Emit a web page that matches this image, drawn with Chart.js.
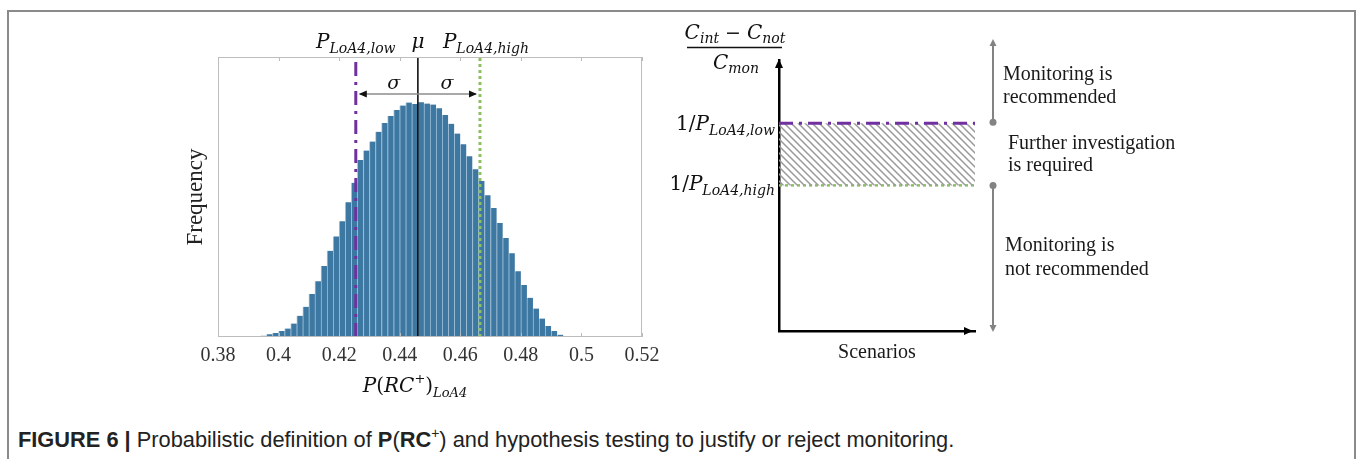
<!DOCTYPE html>
<html>
<head>
<meta charset="utf-8">
<script src="https://cdn.jsdelivr.net/npm/chart.js@4.4.0/dist/chart.umd.min.js"></script>
<style>
  html, body { margin: 0; padding: 0; background: #fff; width: 1360px; height: 459px; overflow: hidden; }
  #frame { position: absolute; left: 7px; top: 10px; width: 1349px; height: 470px; border: 2px solid #8a8a8a; box-sizing: border-box; }
  #histCanvas { position: absolute; left: 0; top: 0; }
  #diagCanvas { position: absolute; left: 640px; top: 0; }
  #caption { position: absolute; left: 18px; top: 426px; font-family: "Liberation Sans", Arial, sans-serif; font-size: 21.8px; color: #222; white-space: nowrap; }
  #caption sup { font-size: 14px; position: relative; top: -1px; }
</style>
</head>
<body>
<div id="frame"></div>
<canvas id="histCanvas" width="680" height="410"></canvas>
<canvas id="diagCanvas" width="720" height="410"></canvas>
<div id="caption"><b>FIGURE 6 |</b> Probabilistic definition of <b>P</b>(<b>RC</b><sup>+</sup>) and hypothesis testing to justify or reject monitoring.</div>

<script>
// Histogram of P(RC+)_LoA4 (bin centres; frequency in arbitrary units)
const binCenters = [
    0.391, 0.393, 0.395, 0.397, 0.399, 0.401, 0.403, 0.405, 0.407, 0.409,
    0.411, 0.413, 0.415, 0.417, 0.419, 0.421, 0.423, 0.425, 0.427, 0.429,
    0.431, 0.433, 0.435, 0.437, 0.439, 0.441, 0.443, 0.445, 0.447, 0.449,
    0.451, 0.453, 0.455, 0.457, 0.459, 0.461, 0.463, 0.465, 0.467, 0.469,
    0.471, 0.473, 0.475, 0.477, 0.479, 0.481, 0.483, 0.485, 0.487, 0.489,
    0.491, 0.493, 0.495, 0.497
];
const binCounts = [
    0, 1, 4, 8, 12, 18, 25, 40, 63, 90,
    128, 166, 212, 257, 300, 345, 402, 460, 528, 556,
    583, 612, 638, 659, 677, 690, 699, 695, 700, 696,
    693, 682, 662, 636, 607, 575, 539, 500, 465, 423,
    385, 340, 295, 250, 196, 155, 117, 85, 55, 33,
    18, 7, 3, 1
];
const xTicks = [0.38, 0.40, 0.42, 0.44, 0.46, 0.48, 0.50, 0.52];

// Markers: mean and one standard deviation either side
const pMean = 0.446;
const pLow = 0.4255;
const pHigh = 0.4665;

// Decision thresholds on (C_int - C_not) / C_mon
const thresholdLow = 1 / pLow;
const thresholdHigh = 1 / pHigh;

const PURPLE = '#7030a0';
const GREEN = '#8cc063';
const BAR_BLUE = '#3d78a3';
const SERIF = '"Liberation Serif", "Times New Roman", serif';
const MATH = '"DejaVu Serif", serif';

// draw pieces of text one after the other: [text, font, dy]
function drawRich(ctx, parts, x, y, align) {
    let w = 0;
    parts.forEach(p => { ctx.font = p[1]; w += ctx.measureText(p[0]).width; });
    let cx = align === 'center' ? x - w / 2 : (align === 'right' ? x - w : x);
    ctx.textAlign = 'left';
    ctx.textBaseline = 'alphabetic';
    parts.forEach(p => {
        ctx.font = p[1];
        ctx.fillText(p[0], cx, y + (p[2] || 0));
        cx += ctx.measureText(p[0]).width;
    });
}

function arrowHead(ctx, x, y, dir, len, half) {
    ctx.beginPath();
    if (dir === 'left') { ctx.moveTo(x, y); ctx.lineTo(x + len, y - half); ctx.lineTo(x + len, y + half); }
    if (dir === 'right') { ctx.moveTo(x, y); ctx.lineTo(x - len, y - half); ctx.lineTo(x - len, y + half); }
    if (dir === 'up') { ctx.moveTo(x, y); ctx.lineTo(x - half, y + len); ctx.lineTo(x + half, y + len); }
    if (dir === 'down') { ctx.moveTo(x, y); ctx.lineTo(x - half, y - len); ctx.lineTo(x + half, y - len); }
    ctx.closePath();
    ctx.fill();
}

const it = s => `italic ${s}px ${MATH}`;
const up = s => `${s}px ${MATH}`;

// ---------- left: histogram ----------
const histDecor = {
    id: 'histDecor',
    afterDraw(chart) {
        const { ctx, chartArea: a, scales: { x } } = chart;
        ctx.save();
        // frame with inward ticks
        ctx.strokeStyle = '#bdbdbd';
        ctx.lineWidth = 1;
        ctx.strokeRect(a.left + 0.5, a.top + 0.5, a.width - 1, a.height - 1);
        xTicks.forEach(t => {
            const px = Math.round(x.getPixelForValue(t)) + 0.5;
            ctx.beginPath();
            ctx.moveTo(px, a.top); ctx.lineTo(px, a.top + 4);
            ctx.moveTo(px, a.bottom); ctx.lineTo(px, a.bottom - 4);
            ctx.stroke();
        });

        const xl = x.getPixelForValue(pLow);
        const xm = x.getPixelForValue(pMean);
        const xh = x.getPixelForValue(pHigh);

        // sigma arrows
        const ay = a.top + 37;
        ctx.strokeStyle = '#8c8c8c';
        ctx.lineWidth = 1.5;
        ctx.beginPath();
        ctx.moveTo(xl + 4, ay); ctx.lineTo(xh - 4, ay);
        ctx.stroke();
        ctx.fillStyle = '#111';
        arrowHead(ctx, xl + 3, ay, 'left', 8, 3.5);
        arrowHead(ctx, xh - 3, ay, 'right', 8, 3.5);
        drawRich(ctx, [['σ', it(19)]], (xl + xm) / 2 + 7, a.top + 32, 'center');
        drawRich(ctx, [['σ', it(19)]], (xm + xh) / 2 - 2, a.top + 32, 'center');

        // labels over the plot
        drawRich(ctx, [['P', it(20)], ['LoA4,low', it(14), 5]], xl, a.top - 9, 'center');
        drawRich(ctx, [['μ', it(20)]], xm, a.top - 9, 'center');
        drawRich(ctx, [['P', it(20)], ['LoA4,high', it(14), 5]], xh + 6, a.top - 9, 'center');

        // x title
        drawRich(ctx, [['P', it(20)], ['(', up(20)], ['RC', it(20)], ['+', up(13), -9], [')', up(20)], ['LoA4', it(13), 5]],
            (a.left + a.right) / 2 - 15, 392, 'center');

        // y title
        ctx.translate(a.left - 16, (a.top + a.bottom) / 2);
        ctx.rotate(-Math.PI / 2);
        ctx.font = `23px ${SERIF}`;
        ctx.fillStyle = '#222';
        ctx.textAlign = 'center';
        ctx.textBaseline = 'alphabetic';
        ctx.fillText('Frequency', 0, 0);
        ctx.restore();
    }
};

const histMax = 835;

new Chart(document.getElementById('histCanvas'), {
    type: 'bar',
    data: {
        datasets: [
            {
                type: 'line',
                data: [{ x: pLow, y: 0 }, { x: pLow, y: histMax }],
                borderColor: PURPLE, borderWidth: 3, borderDash: [14, 6, 3, 6],
                pointRadius: 0, order: 0
            },
            {
                type: 'line',
                data: [{ x: pMean, y: 0 }, { x: pMean, y: histMax }],
                borderColor: '#000', borderWidth: 1.5,
                pointRadius: 0, order: 0
            },
            {
                type: 'line',
                data: [{ x: pHigh, y: 0 }, { x: pHigh, y: histMax }],
                borderColor: GREEN, borderWidth: 3, borderDash: [3, 3],
                pointRadius: 0, order: 0
            },
            {
                type: 'bar',
                data: binCenters.map((c, i) => ({ x: c, y: binCounts[i] })),
                backgroundColor: BAR_BLUE,
                borderColor: 'rgba(110,155,190,0.55)',
                borderWidth: { left: 1, right: 0, top: 0, bottom: 0 },
                borderSkipped: false,
                barPercentage: 1, categoryPercentage: 1,
                grouped: false, order: 1
            }
        ]
    },
    options: {
        responsive: false,
        animation: false,
        devicePixelRatio: 1,
        layout: { padding: { left: 218, right: 38, top: 57, bottom: 35 } },
        plugins: { legend: { display: false }, tooltip: { enabled: false } },
        scales: {
            x: {
                type: 'linear',
                min: 0.38, max: 0.52,
                offset: false,
                grid: { display: false, drawTicks: false },
                border: { display: false },
                afterBuildTicks: s => { s.ticks = xTicks.map(v => ({ value: v })); },
                ticks: {
                    padding: 7,
                    color: '#333',
                    font: { family: SERIF, size: 20 },
                    maxRotation: 0,
                    callback: v => String(+v.toFixed(2))
                }
            },
            y: { display: false, min: 0, max: histMax }
        }
    },
    plugins: [histDecor]
});

// ---------- right: decision diagram ----------
function hatchPattern() {
    const s = 7;
    const c = document.createElement('canvas');
    c.width = s; c.height = s;
    const g = c.getContext('2d');
    g.strokeStyle = '#9a9a9a';
    g.lineWidth = 1.5;
    g.beginPath();
    g.moveTo(-1, -1); g.lineTo(s + 1, s + 1);
    g.moveTo(-1, s - 1); g.lineTo(1, s + 1);
    g.moveTo(s - 1, -1); g.lineTo(s + 1, 1);
    g.stroke();
    return g.createPattern(c, 'repeat');
}

const diagDecor = {
    id: 'diagDecor',
    afterDraw(chart) {
        const { ctx, chartArea: a, scales: { y } } = chart;
        ctx.save();
        ctx.fillStyle = '#000';
        arrowHead(ctx, a.left, a.top - 1, 'up', 9, 4);
        arrowHead(ctx, a.right - 2, a.bottom, 'right', 9, 4);

        // axis quantity
        ctx.fillStyle = '#111';
        const fx = a.left - 45;
        drawRich(ctx, [['C', it(20)], ['int', it(14), 4], [' − ', up(19)], ['C', it(20)], ['not', it(14), 4]], fx + 1, 39, 'center');
        ctx.strokeStyle = '#111';
        ctx.lineWidth = 1.5;
        ctx.beginPath();
        ctx.moveTo(fx - 47, 47.5); ctx.lineTo(fx + 48, 47.5);
        ctx.stroke();
        drawRich(ctx, [['C', it(20)], ['mon', it(14), 4]], fx + 2, 69, 'center');

        // threshold labels
        const yl = y.getPixelForValue(thresholdLow);
        const yh = y.getPixelForValue(thresholdHigh);
        drawRich(ctx, [['1/', up(20)], ['P', it(20)], ['LoA4,low', it(14), 5]], a.left - 4, yl + 7, 'right');
        drawRich(ctx, [['1/', up(20)], ['P', it(20)], ['LoA4,high', it(14), 5]], a.left - 4, yh + 5, 'right');

        // grey range arrows
        const gx = a.right + 18;
        ctx.strokeStyle = '#838383';
        ctx.fillStyle = '#838383';
        ctx.lineWidth = 2;
        ctx.beginPath();
        ctx.moveTo(gx, yl - 1); ctx.lineTo(gx, a.top - 18);
        ctx.moveTo(gx, yh); ctx.lineTo(gx, a.bottom - 4);
        ctx.stroke();
        arrowHead(ctx, gx, a.top - 21, 'up', 7, 3.5);
        arrowHead(ctx, gx, a.bottom + 1, 'down', 7, 3.5);
        ctx.beginPath(); ctx.arc(gx, yl - 1, 3.5, 0, Math.PI * 2); ctx.fill();
        ctx.beginPath(); ctx.arc(gx, yh, 3.5, 0, Math.PI * 2); ctx.fill();

        ctx.fillStyle = '#1a1a1a';
        ctx.font = `20px ${SERIF}`;
        ctx.textAlign = 'left';
        ctx.textBaseline = 'alphabetic';
        ctx.fillText('Monitoring is', gx + 10, 80);
        ctx.fillText('recommended', gx + 10, 103);
        ctx.fillText('Further investigation', gx + 15, 149);
        ctx.fillText('is required', gx + 15, 171);
        ctx.fillText('Monitoring is', gx + 12, 251);
        ctx.fillText('not recommended', gx + 12, 275);
        ctx.restore();
    }
};

new Chart(document.getElementById('diagCanvas'), {
    type: 'line',
    data: {
        datasets: [
            {
                data: [{ x: 0, y: thresholdLow }, { x: 1, y: thresholdLow }],
                borderColor: PURPLE, borderWidth: 3, borderDash: [14, 6, 3, 6],
                pointRadius: 0,
                fill: '+1',
                backgroundColor: hatchPattern()
            },
            {
                data: [{ x: 0, y: thresholdHigh }, { x: 1, y: thresholdHigh }],
                borderColor: GREEN, borderWidth: 2.5, borderDash: [3, 3],
                pointRadius: 0, fill: false
            }
        ]
    },
    options: {
        responsive: false,
        animation: false,
        devicePixelRatio: 1,
        layout: { padding: { left: 139, right: 385, top: 60, bottom: 45 } },
        plugins: { legend: { display: false }, tooltip: { enabled: false } },
        scales: {
            x: {
                type: 'linear', min: 0, max: 1,
                grid: { display: false, drawTicks: false },
                ticks: { display: false },
                border: { display: true, color: '#000', width: 2.5 },
                title: {
                    display: true, text: 'Scenarios', color: '#1a1a1a',
                    font: { family: SERIF, size: 20 },
                    padding: { top: 10, bottom: 0 }
                }
            },
            y: {
                type: 'linear', min: 1.66, max: 2.56,
                grid: { display: false, drawTicks: false },
                ticks: { display: false },
                border: { display: true, color: '#000', width: 2.5 }
            }
        }
    },
    plugins: [diagDecor]
});
</script>
</body>
</html>
